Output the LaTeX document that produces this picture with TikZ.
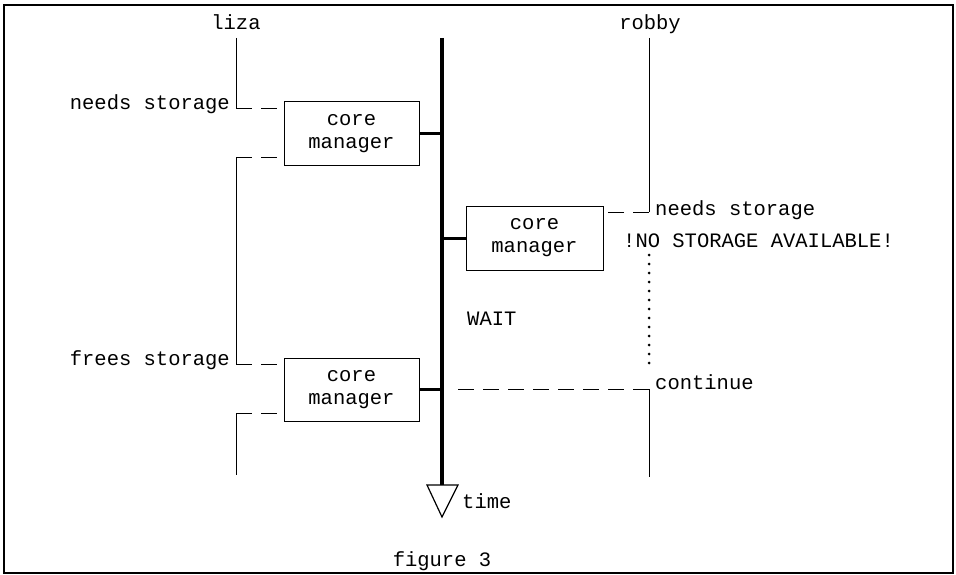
\documentclass[tikz,border=0pt]{standalone}
\usepackage{fontspec}
\setmainfont{Liberation Mono}
\usetikzlibrary{positioning}

\begin{document}
\begin{tikzpicture}[
  x=1pt, y=-1pt,
  font=\fontsize{20.5}{23}\selectfont,
  box/.style={draw, line width=1pt, minimum width=135pt, minimum height=64pt, align=center, inner sep=0pt},
  lbl/.style={inner sep=0pt},
  life/.style={line width=1pt},
  msg/.style={line width=1pt, dash pattern=on 16pt off 9pt},
  hold/.style={line width=3pt, line cap=round, dash pattern=on 0pt off 9pt},
  hook/.style={line width=3pt},
  axis/.style={line width=4pt}
]
\useasboundingbox (0,0) rectangle (956,575);
\draw[line width=1.5pt] (4,5) rectangle (953,573);

% time axis
\coordinate (ttop) at (442,38);
\coordinate (tend) at (442,485);
\draw[axis] (ttop) -- (tend);
\draw[line width=1.2pt, line join=miter] (427,485) -- (458,485) -- (442,517) -- cycle;
\node[lbl, anchor=base west] (time) at (462,508) {time};

% core managers
\node[box] (cm1) at (351.5,134) {core\\manager};
\node[box, minimum width=137pt] (cm3) at (534.5,238) {core\\manager};
\node[box, minimum height=63pt] (cm2) at (351.5,389.5) {core\\manager};
\draw[hook] (cm1.east) -- (cm1.east -| ttop);
\draw[hook] (cm3.west) -- (cm3.west -| ttop);
\draw[hook] (cm2.east) -- (cm2.east -| ttop);

% liza
\node[lbl, anchor=base] (liza) at (236,30) {liza};
\coordinate (l0) at (236,38);
\coordinate (l1) at (236,109);
\coordinate (l2) at (236,158);
\coordinate (l3) at (236,364);
\coordinate (l4) at (236,413);
\coordinate (l5) at (236,475);
\draw[life] (l0) -- (l1);
\draw[msg] (l1) -- (l1 -| cm1.west);
\draw[msg] (l2) -- (l2 -| cm1.west);
\draw[life] (l2) -- (l3);
\draw[msg] (l3) -- (l3 -| cm2.west);
\draw[msg] (l4) -- (l4 -| cm2.west);
\draw[life] (l4) -- (l5);
\node[lbl, anchor=base east] (need1) at (230,110) {needs storage};
\node[lbl, anchor=base east] (free) at (230,365) {frees storage};

% robby
\node[lbl, anchor=base] (robby) at (650,30) {robby};
\coordinate (r0) at (649,38);
\coordinate (r1) at (649,212);
\coordinate (r2) at (649,255);
\coordinate (r3) at (649,371);
\coordinate (r4) at (649,389);
\coordinate (r5) at (649,477);
\coordinate (c0) at (458,389);
\draw[life] (r0) -- (r1);
\draw[msg] (r1) -- (r1 -| cm3.east);
\draw[hold] (r2) -- (r3);
\draw[msg] (c0) -- (r4);
\draw[life] (r4) -- (r5);
\node[lbl, anchor=base west] (need2) at (655,215) {needs storage};
\node[lbl, anchor=base west] (nost) at (623,247) {!NO STORAGE AVAILABLE!};
\node[lbl, anchor=base west] (cont) at (655,389) {continue};
\node[lbl, anchor=base west] (wait) at (467,325) {WAIT};

\node[lbl, anchor=base] (fig) at (442,566) {figure 3};
\end{tikzpicture}
\end{document}
